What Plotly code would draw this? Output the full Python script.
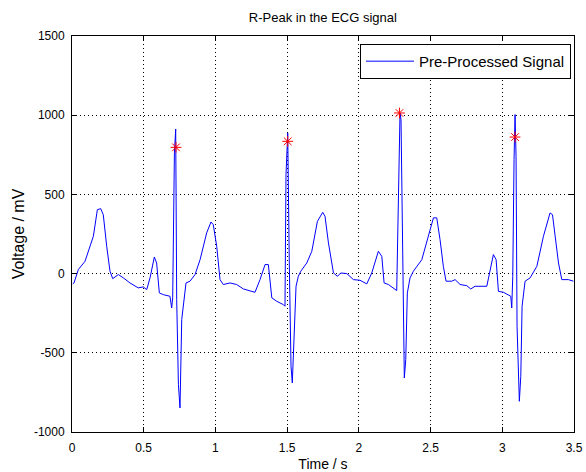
import plotly.graph_objects as go

time_s = [0.005, 0.014, 0.044, 0.091, 0.149, 0.177, 0.200, 0.218, 0.242, 0.265, 0.284, 0.323, 0.358, 0.404,
          0.462, 0.497, 0.521, 0.544, 0.574, 0.590, 0.609, 0.637, 0.683, 0.695, 0.702, 0.714, 0.723, 0.730,
          0.742, 0.753, 0.765, 0.781, 0.795, 0.823, 0.858, 0.893, 0.939, 0.969, 0.985, 1.009, 1.032, 1.055,
          1.102, 1.148, 1.195, 1.276, 1.311, 1.346, 1.369, 1.393, 1.428, 1.474, 1.485, 1.492, 1.504, 1.515,
          1.527, 1.536, 1.550, 1.562, 1.578, 1.595, 1.637, 1.672, 1.711, 1.748, 1.764, 1.788, 1.823, 1.851,
          1.874, 1.916, 1.962, 2.008, 2.055, 2.090, 2.136, 2.160, 2.176, 2.206, 2.264, 2.268, 2.276, 2.287,
          2.294, 2.303, 2.310, 2.317, 2.327, 2.338, 2.357, 2.380, 2.439, 2.485, 2.520, 2.543, 2.566, 2.589,
          2.608, 2.648, 2.671, 2.706, 2.752, 2.780, 2.810, 2.892, 2.915, 2.938, 2.957, 2.973, 3.008, 3.043,
          3.059, 3.066, 3.073, 3.082, 3.089, 3.096, 3.103, 3.119, 3.129, 3.138, 3.159, 3.194, 3.241, 3.287,
          3.333, 3.350, 3.368, 3.392, 3.415, 3.461, 3.496]
voltage_mv = [-65, -59, 25, 78, 236, 404, 410, 372, 172, 15, -32, -6, -27, -59,
              -90, -84, -101, -27, 105, 67, -122, -133, -143, -217, -153, 762, 913, -164,
              -700, -848, -290, -164, -59, -48, -6, 88, 257, 326, 309, 172, -38, -69,
              -59, -69, -97, -118, -38, 57, 57, -153, -175, -196, -206, 625, 888, 67,
              -585, -690, -333, -80, -17, 15, 67, 141, 330, 387, 362, 194, 4, -17,
              4, 0, -38, -42, -65, 4, 141, 109, -59, -69, -107, 88, 677, 1014,
              972, 404, -290, -659, -543, -122, -27, 15, 88, 236, 352, 352, 215, 46,
              -48, -48, -38, -69, -76, -97, -80, -80, 25, 120, 88, -112, -118, -133,
              -143, -217, -17, 720, 1004, 741, -333, -806, -648, -206, -48, -27, 46, 236,
              383, 372, 236, 67, -38, -38, -48]

peak_time_s = [0.725, 1.504, 2.283, 3.089]
peak_voltage_mv = [797, 835, 1014, 862]

x_ticks = [0, 0.5, 1, 1.5, 2, 2.5, 3, 3.5]
x_tick_labels = ["0", "0.5", "1", "1.5", "2", "2.5", "3", "3.5"]
y_ticks = [-1000, -500, 0, 500, 1000, 1500]
y_tick_labels = ["-1000", "-500", "0", "500", "1000", "1500"]

fam = "Liberation Sans, Arial, sans-serif"
tick_font = dict(family=fam, size=12, color="black")

fig = go.Figure()
fig.add_trace(go.Scatter(x=time_s, y=voltage_mv, mode="lines", name="Pre-Processed Signal",
                         line=dict(color="#0000FF", width=1)))
fig.add_trace(go.Scatter(x=peak_time_s, y=peak_voltage_mv, mode="markers", showlegend=False,
                         marker=dict(symbol="asterisk", size=9, color="#FF0000",
                                     line=dict(color="#FF0000", width=1))))

axis_common = dict(showline=True, linecolor="black", linewidth=1, mirror="ticks", ticks="inside",
                   ticklen=5, tickcolor="black", showgrid=True, gridcolor="black", griddash="1px,3px",
                   gridwidth=1, zeroline=False, tickfont=tick_font, automargin=False)

fig.update_layout(
    width=586, height=472,
    margin=dict(l=72, r=12, t=36, b=40),
    paper_bgcolor="white", plot_bgcolor="white",
    font=tick_font,
    title=dict(text="R-Peak in the ECG signal", x=0.551, xanchor="center", y=1 - 17 / 472,
               yanchor="middle", font=dict(family=fam, size=13, color="black")),
    xaxis=dict(range=[0, 3.5], tickvals=x_ticks, ticktext=x_tick_labels, ticklabelstandoff=5,
               title=dict(text="Time / s", standoff=4, font=dict(family=fam, size=14, color="black")),
               **axis_common),
    yaxis=dict(range=[-1000, 1500], tickvals=y_ticks, ticktext=y_tick_labels, ticklabelstandoff=4,
               title=dict(text="Voltage / mV", standoff=5, font=dict(family=fam, size=16, color="black")),
               **axis_common),
    legend=dict(x=0.994, y=0.98, xanchor="right", yanchor="top", bgcolor="white", itemwidth=48,
                bordercolor="black", borderwidth=1, font=dict(family=fam, size=15, color="black")),
    showlegend=True,
)

fig.write_html("out.html")
